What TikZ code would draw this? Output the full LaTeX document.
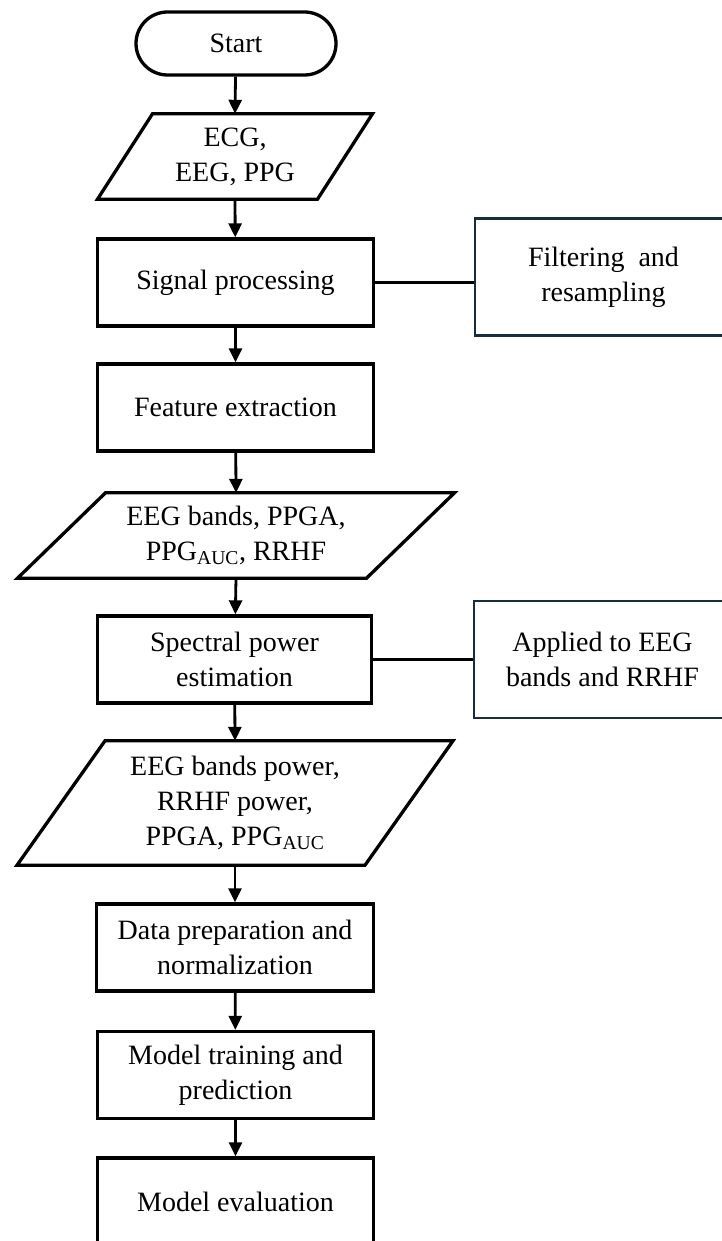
\documentclass[tikz,border=0pt]{standalone}
\usepackage{fontspec}
\setmainfont{Liberation Serif}
\usetikzlibrary{shapes.misc,arrows.meta,calc}
\definecolor{sidecol}{RGB}{24,45,62}
\tikzset{
  txt/.style={align=center,font=\fontsize{28}{35}\selectfont,inner sep=0pt},
  stepbox/.style={txt,draw=black,line width=3.3pt,minimum width=276pt,minimum height=87pt},
  sidebox/.style={txt,draw=sidecol,line width=2.8pt,minimum width=257pt,minimum height=117pt},
  iobox/.style={txt},
  termbox/.style={txt,draw=black,line width=3.3pt,rounded rectangle,minimum width=200pt,minimum height=63pt},
  flow/.style={line width=2.8pt,-{Triangle[length=14pt,width=13pt]}},
  link/.style={line width=2.2pt}
}
\newcommand\drawpara[3]{% name, top width, slant
  \draw[line width=3.3pt,line join=miter]
    ($(#1.north)+(-#2/2+#3/2,0)$) -- ($(#1.north)+(#2/2+#3/2,0)$) --
    ($(#1.south)+(#2/2-#3/2,0)$) -- ($(#1.south)+(-#2/2-#3/2,0)$) -- cycle;}
\begin{document}
\begin{tikzpicture}[x=1pt,y=-1pt]
\useasboundingbox (0,0) rectangle (721,1241);
\node[termbox] (start) at (236,43.5) {Start};
\node[iobox,minimum width=220pt,minimum height=85pt] (in1) at (235,156.5) {ECG,\\EEG, PPG};
\drawpara{in1}{220}{55}
\node[stepbox] (sp) at (235.5,282.5) {Signal processing};
\node[sidebox] (fr) at (603.5,277) {Filtering\ \ and\\resampling};
\node[stepbox] (fe) at (235.5,407.5) {Feature extraction};
\node[iobox,minimum width=349pt,minimum height=85pt] (in2) at (236,535.5) {EEG bands, PPGA,\\PPG\textsubscript{AUC}, RRHF};
\drawpara{in2}{349}{88}
\node[stepbox,minimum width=274pt] (spe) at (234.5,659.5) {Spectral power\\estimation};
\node[sidebox] (ap) at (602.5,659.5) {Applied to EEG\\bands and RRHF};
\node[iobox,minimum width=348pt,minimum height=124pt] (in3) at (235,803) {EEG bands power,\\RRHF power,\\PPGA, PPG\textsubscript{AUC}};
\drawpara{in3}{348}{88}
\node[stepbox,minimum width=277pt] (dp) at (235,947.5) {Data preparation and\\normalization};
\node[stepbox] (mt) at (235.5,1075) {Model training and\\prediction};
\node[stepbox] (me) at (235.5,1201.5) {Model evaluation};
\draw[flow] (start) -- (in1.north);
\draw[flow] (in1.south) -- (sp);
\draw[flow] (sp) -- (fe);
\draw[flow] (fe) -- (in2.north);
\draw[flow] (in2.south) -- (spe);
\draw[flow] (spe) -- (in3.north);
\draw[flow] (in3.south) -- (dp);
\draw[flow] (dp) -- (mt);
\draw[flow] (mt) -- (me);
\draw[link] (sp.east) -- (sp.east -| fr.west);
\draw[link] (spe.east) -- (ap.west);
\end{tikzpicture}
\end{document}
